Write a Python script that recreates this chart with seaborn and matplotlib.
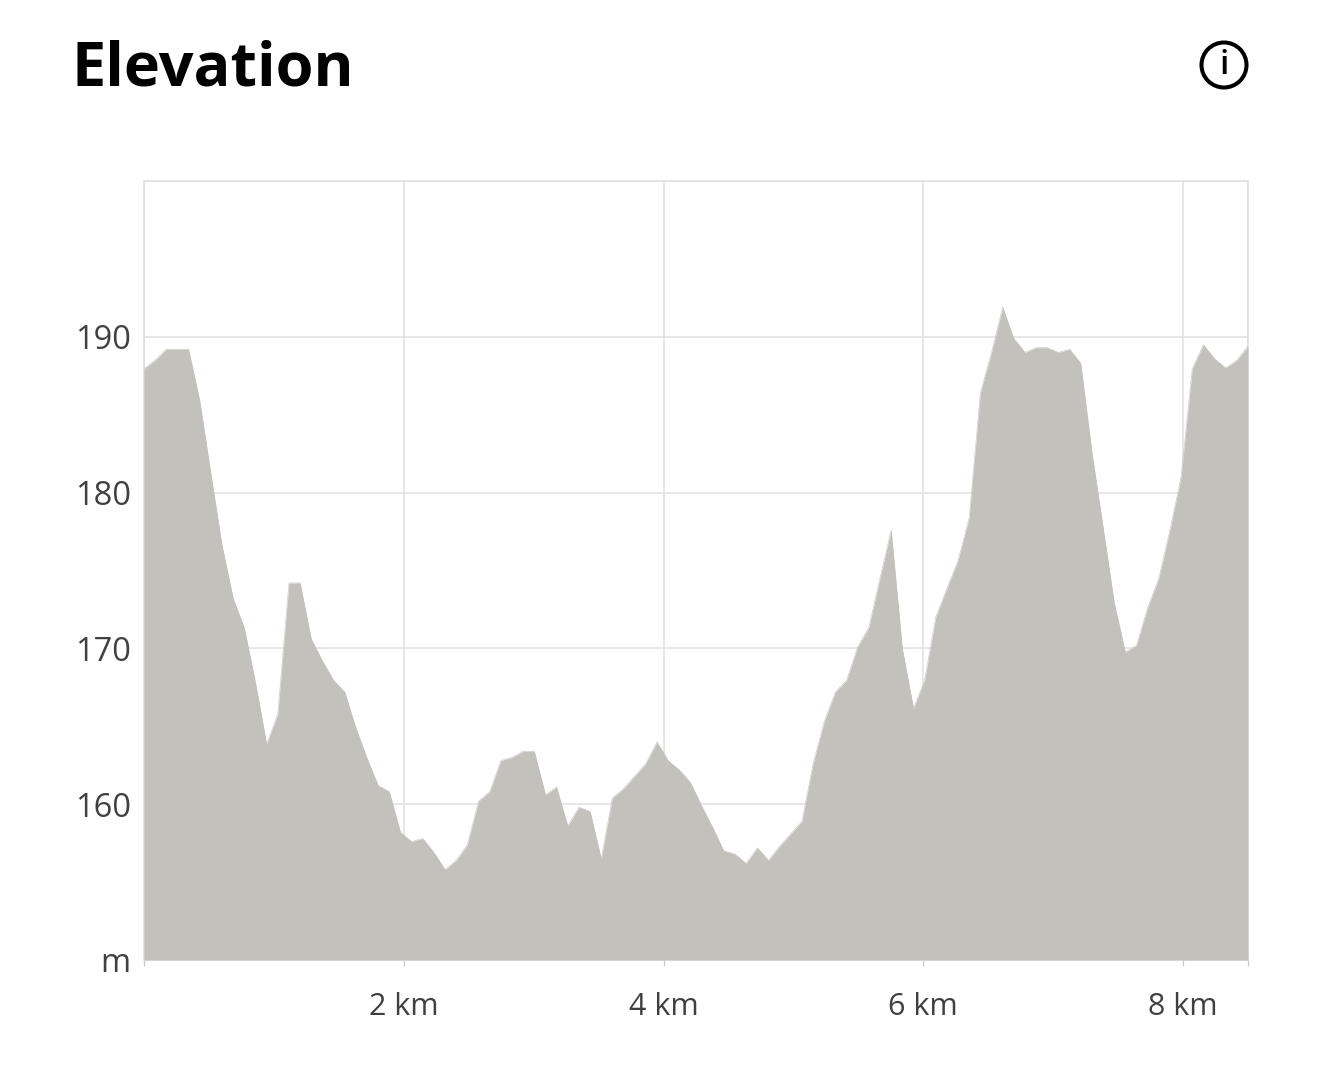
# -*- coding: utf-8 -*-
"""
plot.py

Elevation profile over an 8.5 km route, drawn as a filled area.
"""

import numpy as np
import pandas as pd
import matplotlib
matplotlib.use('Agg')
import matplotlib.pyplot as plt
import seaborn as sns
from matplotlib.patches import Circle

# one sample roughly every 86 m
elevation_m = [
    187.95, 188.5, 189.2, 189.2, 189.2, 185.9, 181.2, 176.6, 173.2, 171.3,
    167.8, 163.85, 165.8, 174.2, 174.2, 170.6, 169.2, 167.95, 167.2, 164.9,
    162.95, 161.2, 160.8, 158.2, 157.6, 157.8, 156.9, 155.8, 156.4, 157.4,
    160.2, 160.8, 162.8, 163.0, 163.4, 163.4, 160.6, 161.1, 158.6, 159.8,
    159.55, 156.5, 160.4, 161.0, 161.8, 162.6, 164.0, 162.8, 162.2, 161.4,
    159.9, 158.5, 157.0, 156.8, 156.2, 157.2, 156.4, 157.3, 158.1, 158.9,
    162.6, 165.3, 167.2, 167.95, 170.1, 171.35, 174.5, 177.6, 170.0, 166.15,
    167.95, 172.0, 173.85, 175.65, 178.4, 186.4, 189.0, 191.9, 189.9, 189.0,
    189.3, 189.3, 189.0, 189.2, 188.3, 182.6, 177.8, 172.95, 169.75, 170.2,
    172.6, 174.5, 177.6, 181.0, 187.95, 189.5, 188.6, 188.0, 188.5, 189.4,
]
route_km = 8.5
x_ticks = [0, 2, 4, 6, 8, 8.5]
x_tick_labels = ['', '2 km', '4 km', '6 km', '8 km', '']
y_ticks = [150, 160, 170, 180, 190, 200]
y_tick_labels = ['m', '160', '170', '180', '190', '']

GRID = '#e0e0e0'
FILL = '#c2c1bb'
TEXT = '#404040'
W, H = 1320, 1070

sns.set_theme(style='white')
plt.rcParams['font.family'] = ['Open Sans', 'DejaVu Sans']

df = pd.DataFrame({
    'distance': np.linspace(0, route_km, len(elevation_m)),
    'elevation': elevation_m,
})

fig = plt.figure(figsize=(W / 100, H / 100), dpi=100)
ax = fig.add_axes([144 / W, 1 - 960 / H, (1248 - 144) / W, (960 - 181) / H])

sns.lineplot(data=df, x='distance', y='elevation', color=FILL, linewidth=0.4, ax=ax, zorder=3)
ax.fill_between(df['distance'], df['elevation'], 150, color=FILL, linewidth=0, zorder=3)

ax.set_xlim(0, route_km)
ax.set_ylim(150, 200)
ax.set_xlabel('')
ax.set_ylabel('')
ax.set_xticks(x_ticks)
ax.set_xticklabels(x_tick_labels)
ax.set_yticks(y_ticks)
ax.set_yticklabels(y_tick_labels)
ax.tick_params(axis='x', bottom=True, length=4, width=0.9, color='#c8c8c8', pad=19, labelsize=22, labelcolor=TEXT)
ax.tick_params(axis='y', length=0, pad=9.5, labelsize=23.5, labelcolor=TEXT)
ax.grid(True, color=GRID, linewidth=1.1, zorder=1)
ax.set_axisbelow(True)
for side in ax.spines.values():
    side.set_color(GRID)
    side.set_linewidth(1.1)

fig.text(71.5 / W, 1 - 85 / H, 'Elevation', fontsize=44, fontweight='bold', color='black', va='baseline')

# info icon, top right
icon = fig.add_axes([1194 / W, 1 - 95 / H, 60 / W, 60 / H])
icon.set_xlim(-30, 30)
icon.set_ylim(-30, 30)
icon.axis('off')
icon.add_patch(Circle((0, 0), 22.5, fill=False, edgecolor='black', linewidth=2.9))
icon.text(0, 0, 'i', fontsize=24, fontweight='semibold', color='black', ha='center', va='center')

plt.savefig('out.png', dpi=100)
plt.close()
